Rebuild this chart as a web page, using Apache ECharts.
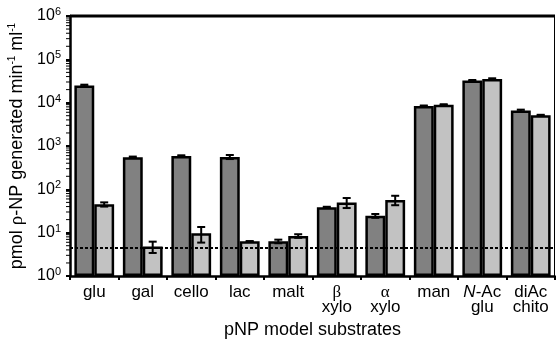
<!DOCTYPE html>
<html><head><meta charset="utf-8">
<script src="https://cdn.jsdelivr.net/npm/echarts@6/dist/echarts.min.js"></script>
<style>html,body{margin:0;padding:0;background:#fff}#c{width:556px;height:340px}</style>
</head><body><div id="c"></div>
<script>
const categories = ['glu','gal','cello','lac','malt','{g|β}\nxylo','{g|α}\nxylo','man','{i|N}-Ac\nglu','diAc\nchito'];
const darkValues = [25000, 550, 590, 560, 6.3, 38.6, 24.5, 8400, 32400, 6600];
const darkErr    = [1000, 20, 20, 60, 0.6, 1, 2.5, 200, 1000, 300];
const lightValues = [45, 4.8, 9.7, 6.3, 8.4, 50, 57, 9000, 35000, 5150];
const lightErr    = [5, 1.4, 3.8, 0.1, 0.8, 13, 14, 200, 1500, 100];
const detectionLimit = 4.4;
const yTickExponents = [0,1,2,3,4,5,6];
const minorTickMultipliers = [2,3,4,5,6,7,8,9];

const FONT = '"Liberation Sans", Arial, sans-serif';
const CAT_GAP = 0.18;

function errSeries(values, errs, side) {
  return {
    type: 'custom',
    z: 5,
    clip: false,
    data: values.map((v, i) => [i, v, errs[i]]),
    renderItem: function (params, api) {
      const i = api.value(0), v = api.value(1), e = api.value(2);
      const band = api.size([1, 1])[0];
      const off = side * band * (1 - CAT_GAP) / 4;
      const c = api.coord([i, v]);
      const x = c[0] + off;
      const yTop = api.coord([i, v + e])[1];
      const yBot = api.coord([i, Math.max(v - e, 1e-9)])[1];
      const cap = 4;
      const st = { stroke: '#000', lineWidth: 2 };
      return { type: 'group', children: [
        { type: 'line', shape: { x1: x, y1: yTop, x2: x, y2: yBot }, style: st },
        { type: 'line', shape: { x1: x - cap, y1: yTop, x2: x + cap, y2: yTop }, style: st },
        { type: 'line', shape: { x1: x - cap, y1: yBot, x2: x + cap, y2: yBot }, style: st }
      ]};
    }
  };
}

// Frame (top + right border) and log-spaced minor ticks, drawn from the coordinate system and axis scale
const frameSeries = {
  type: 'custom',
  z: 6,
  clip: false,
  silent: true,
  data: [[0, 1]],
  renderItem: function (params, api) {
    const cs = params.coordSys;
    const children = [
      { type: 'line', shape: { x1: cs.x, y1: cs.y, x2: cs.x + cs.width, y2: cs.y }, style: { stroke: '#000', lineWidth: 3 } },
      { type: 'line', shape: { x1: cs.x + cs.width - 0.5, y1: cs.y, x2: cs.x + cs.width - 0.5, y2: cs.y + cs.height }, style: { stroke: '#000', lineWidth: 1 } }
    ];
    for (let n = 0; n < 6; n++) {
      minorTickMultipliers.forEach(function (k) {
        const y = api.coord([0, k * Math.pow(10, n)])[1];
        children.push({ type: 'line', shape: { x1: cs.x - 4, y1: y, x2: cs.x, y2: y }, style: { stroke: '#000', lineWidth: 1 } });
      });
    }
    return { type: 'group', children: children };
  }
};

const chart = echarts.init(document.getElementById('c'));
chart.setOption({
  animation: false,
  grid: { left: 70, right: 1, top: 16, bottom: 64, show: false, outerBoundsMode: 'none' },
  xAxis: {
    type: 'category',
    data: categories,
    name: 'pNP model substrates',
    nameLocation: 'middle',
    nameGap: 41,
    nameTextStyle: { fontSize: 18, color: '#000', fontFamily: FONT },
    axisLine: { onZero: false, lineStyle: { color: '#000', width: 2.5 } },
    axisTick: { show: true, length: 4, lineStyle: { color: '#000', width: 2 } },
    axisLabel: { color: '#000', fontSize: 17, margin: 9, lineHeight: 15, fontFamily: FONT, interval: 0,
      rich: { g: { fontFamily: '"Liberation Serif", serif', fontSize: 17, color: '#000' },
              i: { fontStyle: 'italic', fontSize: 17, color: '#000', fontFamily: FONT } } },
    splitLine: { show: false }
  },
  yAxis: {
    type: 'log', logBase: 10, min: 1, max: 1e6,
    name: 'pmol {g|ρ}-NP generated min{s|-1} ml{s|-1}',
    nameLocation: 'middle',
    nameGap: 36,
    nameTextStyle: { fontSize: 18, color: '#000', fontFamily: FONT,
      rich: { g: { fontFamily: '"Liberation Serif", serif', fontSize: 19, color: '#000' },
              s: { fontSize: 10, color: '#000', fontFamily: FONT, padding: [0, 0, 8, 0] } } },
    axisLine: { show: true, onZero: false, lineStyle: { color: '#000', width: 2.5 } },
    axisTick: { show: true, length: 4, lineStyle: { color: '#000', width: 2 } },
    axisLabel: { color: '#000', margin: 9,
      formatter: function (v) { const n = Math.round(Math.log10(v)); return yTickExponents.indexOf(n) >= 0 ? '{b|10}{s|' + n + '}' : ''; },
      rich: { b: { fontSize: 16, color: '#000', fontFamily: FONT },
              s: { fontSize: 11, color: '#000', fontFamily: FONT, padding: [0, 0, 8, 0] } } },
    splitLine: { show: false }
  },
  series: [
    { type: 'bar', data: darkValues, barGap: '0%', barCategoryGap: (CAT_GAP * 100) + '%',
      itemStyle: { color: '#818181', borderColor: '#000', borderWidth: 2.5 },
      markLine: { silent: true, symbol: 'none', label: { show: false },
        lineStyle: { color: '#000', width: 2, type: [3, 2] },
        data: [{ yAxis: detectionLimit }] } },
    { type: 'bar', data: lightValues, barGap: '0%', barCategoryGap: (CAT_GAP * 100) + '%',
      itemStyle: { color: '#c2c2c2', borderColor: '#000', borderWidth: 2.5 } },
    errSeries(darkValues, darkErr, -1),
    errSeries(lightValues, lightErr, 1),
    frameSeries
  ]
});
</script></body></html>
